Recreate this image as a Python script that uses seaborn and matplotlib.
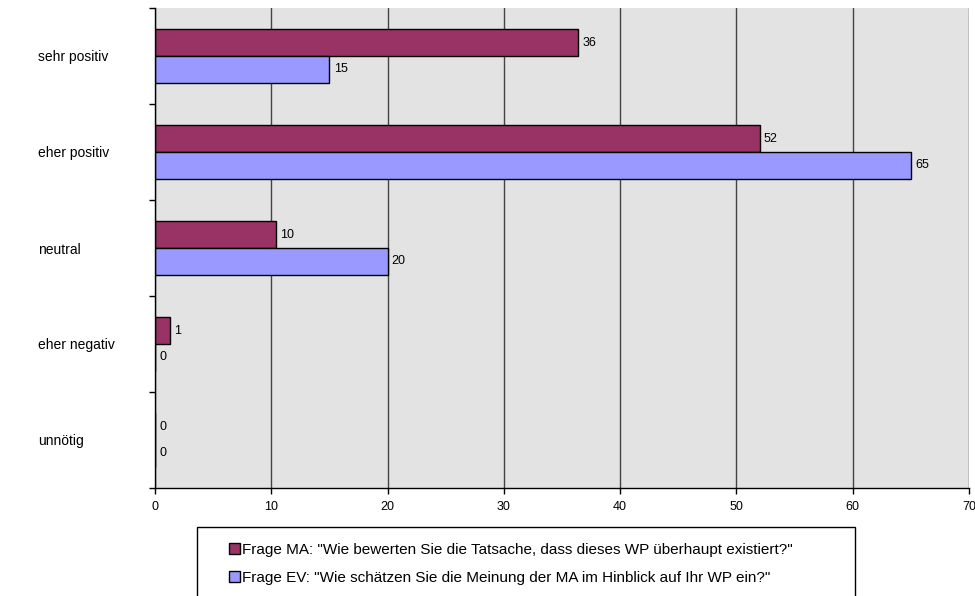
import numpy as np
import pandas as pd
import seaborn as sns
import matplotlib.pyplot as plt
from matplotlib.patches import Rectangle, Patch

# data
categories = ["sehr positiv", "eher positiv", "neutral", "eher negativ", "unnötig"]
series_names = ['Frage MA: "Wie bewerten Sie die Tatsache, dass dieses WP überhaupt existiert?"',
                'Frage EV: "Wie schätzen Sie die Meinung der MA im Hinblick auf Ihr WP ein?"']
values_ma = [36.4, 52.0, 10.4, 1.3, 0.0]
values_ev = [15.0, 65.0, 20.0, 0.0, 0.0]
labels_ma = ["36", "52", "10", "1", "0"]
labels_ev = ["15", "65", "20", "0", "0"]
xticks = [0, 10, 20, 30, 40, 50, 60, 70]
colors = ["#993366", "#9999FF"]

df = pd.DataFrame({
    "Kategorie": categories * 2,
    "Wert": values_ma + values_ev,
    "Frage": [series_names[0]] * 5 + [series_names[1]] * 5,
})

sns.set_style("white")
plt.rcParams["font.family"] = ["Liberation Sans", "DejaVu Sans"]
plt.rcParams["text.color"] = "black"
plt.rcParams["xtick.color"] = "black"
plt.rcParams["ytick.color"] = "black"

fig = plt.figure(figsize=(9.75, 5.96), dpi=100)
ax = fig.add_axes([155 / 975, 1 - 488 / 596, 814 / 975, 480 / 596])
ax.set_facecolor("#e3e3e3")

sns.barplot(data=df, y="Kategorie", x="Wert", hue="Frage", order=categories,
            hue_order=series_names, palette=colors, width=0.56, orient="h",
            edgecolor="black", linewidth=1, saturation=1, legend=False, ax=ax)

for cont, labs in zip(ax.containers, [labels_ma, labels_ev]):
    ax.bar_label(cont, labels=labs, padding=3, fontsize=9)

ax.set_xlim(0, 70)
ax.set_ylim(len(categories) - 0.5, -0.5)
ax.set_xticks(xticks)
ax.set_xticklabels([str(t) for t in xticks], fontsize=9)
ax.xaxis.grid(True, color="#444444", linewidth=1)
ax.set_axisbelow(True)
ax.set_xlabel("")
ax.set_ylabel("")

# category labels left-aligned, boundary tick marks as minor ticks
ax.set_yticks(range(len(categories)))
ax.set_yticklabels(categories, fontsize=10, ha="left")
ax.tick_params(axis="y", which="major", length=0, pad=117 * 0.72)
ax.set_yticks(np.arange(-0.5, len(categories), 1), minor=True)
ax.tick_params(axis="y", which="minor", length=4, width=1, color="black", left=True)
ax.tick_params(axis="x", length=4, width=1, color="black", bottom=True, pad=5)

for s in ["top", "right"]:
    ax.spines[s].set_visible(False)
for s in ["left", "bottom"]:
    ax.spines[s].set_color("black")
    ax.spines[s].set_linewidth(1)

# legend box
fig.patches.append(Rectangle((197 / 975, -0.05), 658 / 975, 1 - 527 / 596 + 0.05,
                             transform=fig.transFigure, facecolor="white",
                             edgecolor="black", linewidth=1))
handles = [Patch(facecolor=c, edgecolor="black", linewidth=1) for c in colors]
fig.legend(handles, series_names, loc="upper left",
           bbox_to_anchor=(229 / 975, 1 - 543 / 596), frameon=False, fontsize=11,
           handlelength=0.7, handleheight=0.7, handletextpad=0.15, labelspacing=0.9,
           borderpad=0, borderaxespad=0)

fig.savefig("out.png", dpi=100)
